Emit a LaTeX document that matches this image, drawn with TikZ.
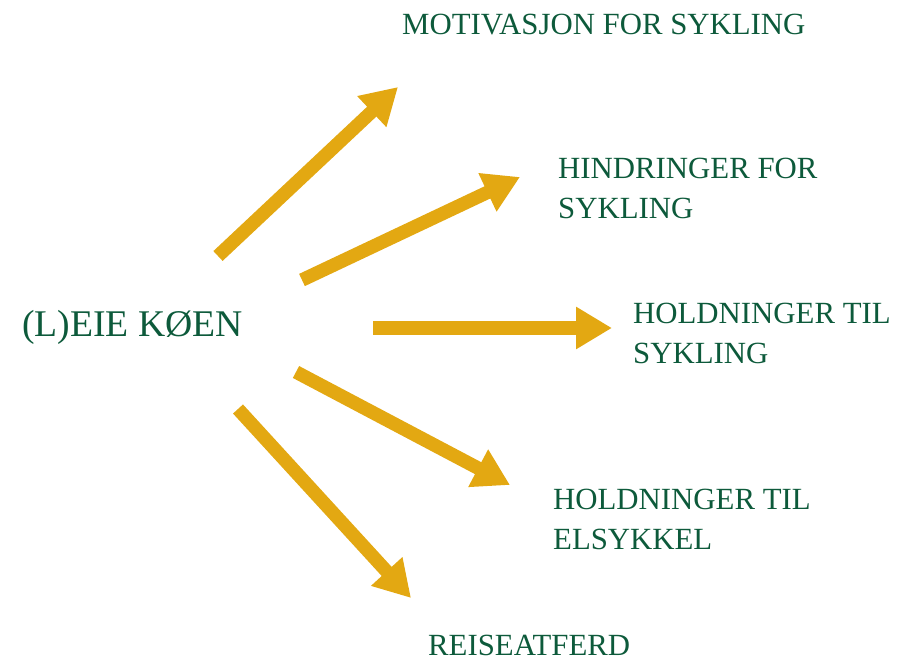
\documentclass[tikz,border=0pt]{standalone}
\usepackage{fontspec}
\setmainfont{Liberation Serif}
\usetikzlibrary{arrows.meta}
\definecolor{gold}{HTML}{E3A812}
\definecolor{dkgreen}{HTML}{0D5A3B}
\tikzset{
  label/.style={text=dkgreen, inner sep=0pt, anchor=base west, align=left,
    font=\fontsize{30.8}{40}\selectfont},
  mainlabel/.style={text=dkgreen, inner sep=0pt, anchor=base west,
    font=\fontsize{37.7}{45}\selectfont},
  goldarrow/.style={draw=gold, line width=13.5pt,
    -{Triangle[length=36pt,width=40pt]}}
}
\begin{document}
\begin{tikzpicture}[x=1pt,y=-1pt]
\useasboundingbox (0,0) rectangle (914,660);
\node[mainlabel] (main) at (22,337) {(L)EIE KØEN};
\node[label] (mot) at (402,35) {MOTIVASJON FOR SYKLING};
\node[label] (hin) at (558,219) {HINDRINGER FOR\\SYKLING};
\node[label] (hsy) at (633,364) {HOLDNINGER TIL\\SYKLING};
\node[label] (hel) at (553,549) {HOLDNINGER TIL\\ELSYKKEL};
\node[label] (rei) at (428,655) {REISEATFERD};
\coordinate (s1) at (218,256);
\coordinate (t1) at (398,87);
\coordinate (s2) at (302,280);
\coordinate (t2) at (520,177);
\coordinate (s3) at (373,328);
\coordinate (t3) at (612,328);
\coordinate (s4) at (296,372);
\coordinate (t4) at (510,485);
\coordinate (s5) at (238,409);
\coordinate (t5) at (411,598);
\draw[goldarrow] (s1) -- (t1);
\draw[goldarrow] (s2) -- (t2);
\draw[goldarrow] (s3) -- (t3);
\draw[goldarrow] (s4) -- (t4);
\draw[goldarrow] (s5) -- (t5);
\end{tikzpicture}
\end{document}
